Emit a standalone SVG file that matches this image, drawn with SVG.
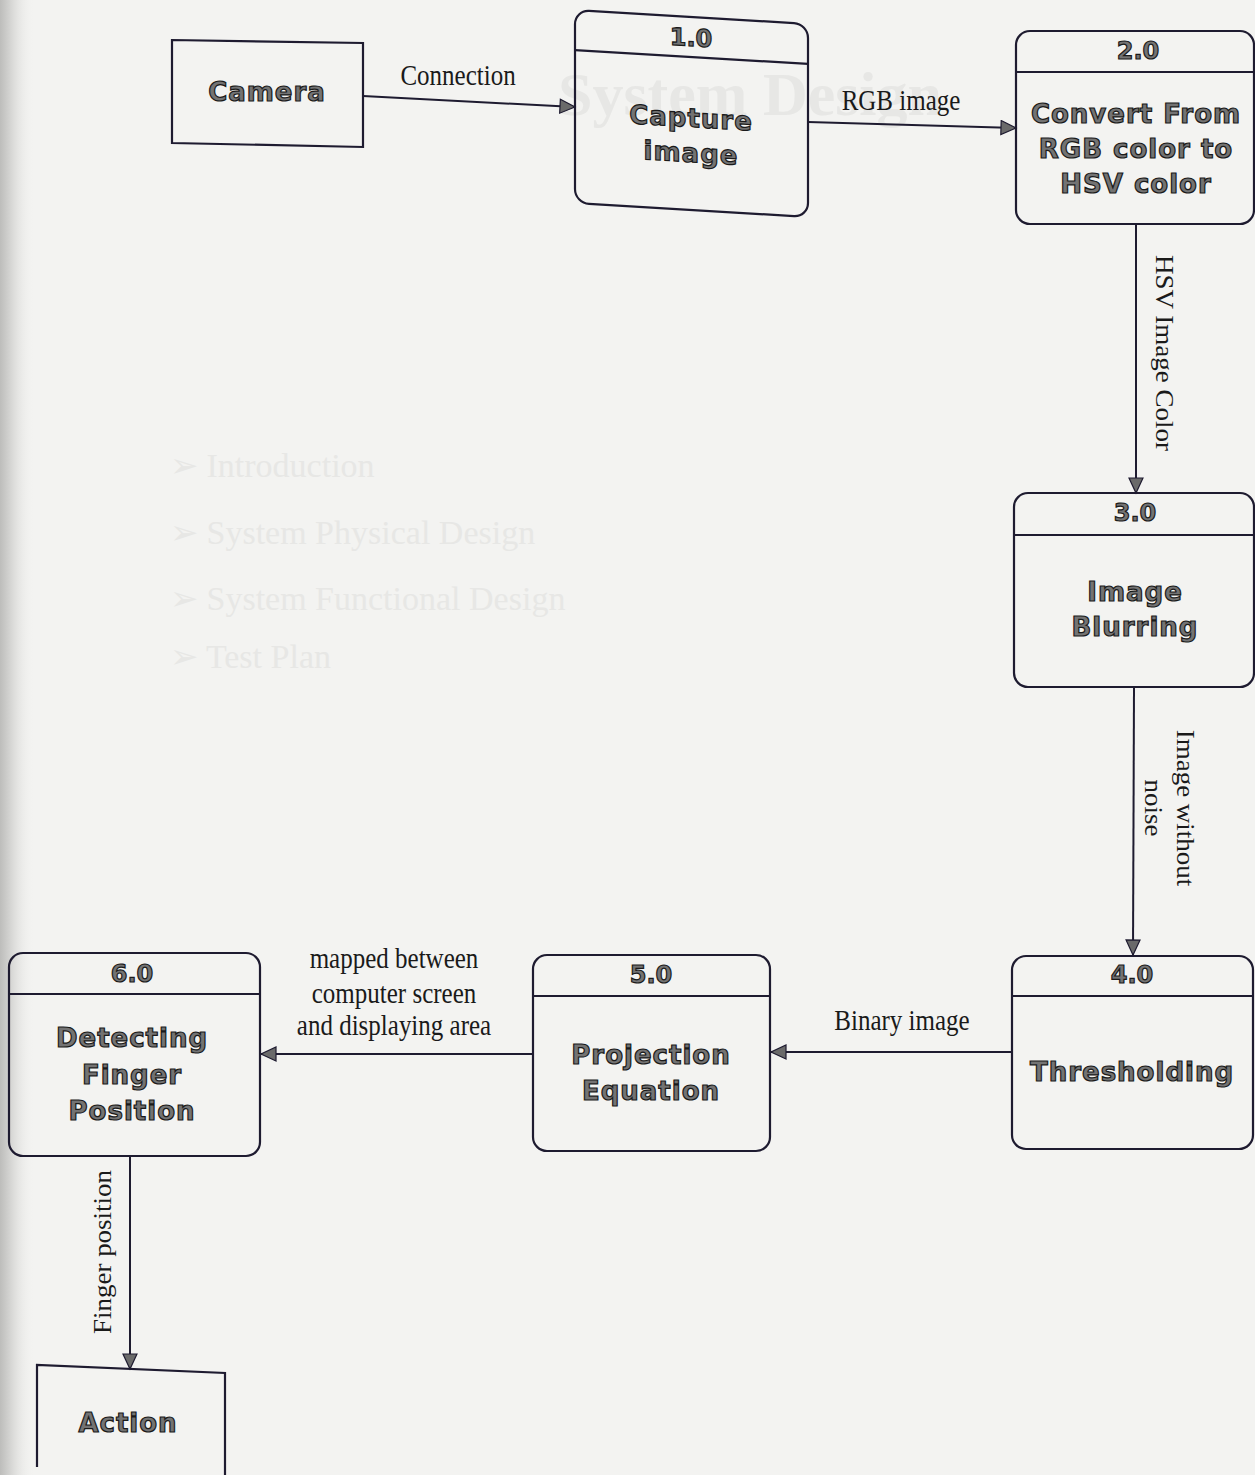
<svg xmlns="http://www.w3.org/2000/svg" width="1255" height="1475" viewBox="0 0 1255 1475">
<defs>
<linearGradient id="shade" x1="0" y1="0" x2="1" y2="0">
<stop offset="0" stop-color="#bdbdbb"/>
<stop offset="0.4" stop-color="#dcdcda"/>
<stop offset="1" stop-color="#f2f2f0" stop-opacity="0"/>
</linearGradient>
<marker id="arr" markerWidth="18" markerHeight="16" refX="16" refY="8" orient="auto" markerUnits="userSpaceOnUse">
<path d="M1,1 L16,8 L1,15 Z" fill="#6a6a6a" stroke="#1e1b30" stroke-width="1.2"/>
</marker>
<style>
.box{fill:none;stroke:#1e1b30;stroke-width:2.2}
.div{stroke:#1e1b30;stroke-width:2.2}
.flow{fill:none;stroke:#1e1b30;stroke-width:2;marker-end:url(#arr)}
.t{font-family:"DejaVu Sans",sans-serif;font-weight:bold;font-size:26px;letter-spacing:1px;fill:#737373;stroke:#1a1a1a;stroke-width:1.2;text-anchor:middle}
.n{font-family:"DejaVu Sans",sans-serif;font-weight:bold;font-size:24px;fill:#737373;stroke:#1a1a1a;stroke-width:1.2;text-anchor:middle}
.lbl{font-family:"Liberation Serif",serif;font-size:25px;fill:#1a1a1a;text-anchor:middle}
.ghost{font-family:"Liberation Serif",serif;fill:#e7e7e5}
</style>
</defs>
<rect x="0" y="0" width="1255" height="1475" fill="#f3f3f1"/>
<rect x="0" y="0" width="34" height="1475" fill="url(#shade)"/>
<g id="ghost-text">
<text class="ghost" x="750" y="115" font-size="62" font-weight="bold" text-anchor="middle">System Design</text>
<text class="ghost" x="170" y="477" font-size="34">➢ Introduction</text>
<text class="ghost" x="170" y="544" font-size="34">➢ System Physical Design</text>
<text class="ghost" x="170" y="610" font-size="34">➢ System Functional Design</text>
<text class="ghost" x="170" y="668" font-size="34">➢ Test Plan</text>
</g>
<g id="connectors">
<line class="flow" x1="363" y1="96" x2="575" y2="107"/>
<line class="flow" x1="808" y1="122" x2="1016" y2="128"/>
<line class="flow" x1="1136" y1="224" x2="1136" y2="493"/>
<line class="flow" x1="1134" y1="688" x2="1133" y2="955"/>
<line class="flow" x1="1012" y1="1052" x2="771" y2="1052"/>
<line class="flow" x1="533" y1="1054" x2="261" y2="1054"/>
<line class="flow" x1="130" y1="1157" x2="130" y2="1369"/>
<g transform="translate(458,85) scale(1,1.15)"><text class="lbl" x="0" y="0">Connection</text></g>
<g transform="translate(901,110) scale(1,1.15)"><text class="lbl" x="0" y="0">RGB image</text></g>
<g transform="translate(1156,353) scale(1,1.08) rotate(90)"><text class="lbl" x="0" y="0">HSV Image Color</text></g>
<g transform="translate(1177,808) scale(1,1.08) rotate(90)"><text class="lbl" x="0" y="0">Image without</text><text class="lbl" x="0" y="32">noise</text></g>
<g transform="translate(902,1030) scale(1,1.15)"><text class="lbl" x="0" y="0">Binary image</text></g>
<g transform="translate(394,968) scale(1,1.15)"><text class="lbl" x="0" y="0">mapped between</text></g>
<g transform="translate(394,1003) scale(1,1.15)"><text class="lbl" x="0" y="0">computer screen</text></g>
<g transform="translate(394,1035) scale(1,1.15)"><text class="lbl" x="0" y="0">and displaying area</text></g>
<g transform="translate(111,1252) scale(1,1.08) rotate(-90)"><text class="lbl" x="0" y="0">Finger position</text></g>
</g>
<g id="camera">
<polygon class="box" points="172,40 363,43 363,147 172,143"/>
<text class="t" x="267" y="101">Camera</text>
</g>
<g id="p1" transform="translate(691,0) skewY(3.4) translate(-691,0)">
<rect class="box" x="575" y="17" width="233" height="193" rx="14"/>
<line class="div" x1="575" y1="57" x2="808" y2="57"/>
<text class="n" x="691" y="46">1.0</text>
<text class="t" x="691" y="127">Capture</text>
<text class="t" x="691" y="162">image</text>
</g>
<g id="p2">
<rect class="box" x="1016" y="31" width="238" height="193" rx="14"/>
<line class="div" x1="1016" y1="72" x2="1254" y2="72"/>
<text class="n" x="1138" y="59">2.0</text>
<text class="t" x="1136" y="123">Convert From</text>
<text class="t" x="1136" y="158">RGB color to</text>
<text class="t" x="1136" y="193">HSV color</text>
</g>
<g id="p3">
<rect class="box" x="1014" y="493" width="240" height="194" rx="14"/>
<line class="div" x1="1014" y1="535" x2="1254" y2="535"/>
<text class="n" x="1135" y="521">3.0</text>
<text class="t" x="1135" y="601">Image</text>
<text class="t" x="1135" y="636">Blurring</text>
</g>
<g id="p4">
<rect class="box" x="1012" y="956" width="241" height="193" rx="14"/>
<line class="div" x1="1012" y1="996" x2="1253" y2="996"/>
<text class="n" x="1132" y="983">4.0</text>
<text class="t" x="1132" y="1081">Thresholding</text>
</g>
<g id="p5">
<rect class="box" x="533" y="955" width="237" height="196" rx="14"/>
<line class="div" x1="533" y1="996" x2="770" y2="996"/>
<text class="n" x="651" y="983">5.0</text>
<text class="t" x="651" y="1064">Projection</text>
<text class="t" x="651" y="1100">Equation</text>
</g>
<g id="p6">
<rect class="box" x="9" y="953" width="251" height="203" rx="14"/>
<line class="div" x1="9" y1="994" x2="260" y2="994"/>
<text class="n" x="132" y="982">6.0</text>
<text class="t" x="132" y="1047">Detecting</text>
<text class="t" x="132" y="1084">Finger</text>
<text class="t" x="132" y="1120">Position</text>
</g>
<g id="action">
<polyline class="box" points="37,1467 37,1365 225,1373 225,1475"/>
<text class="t" x="128" y="1432">Action</text>
</g>
</svg>
